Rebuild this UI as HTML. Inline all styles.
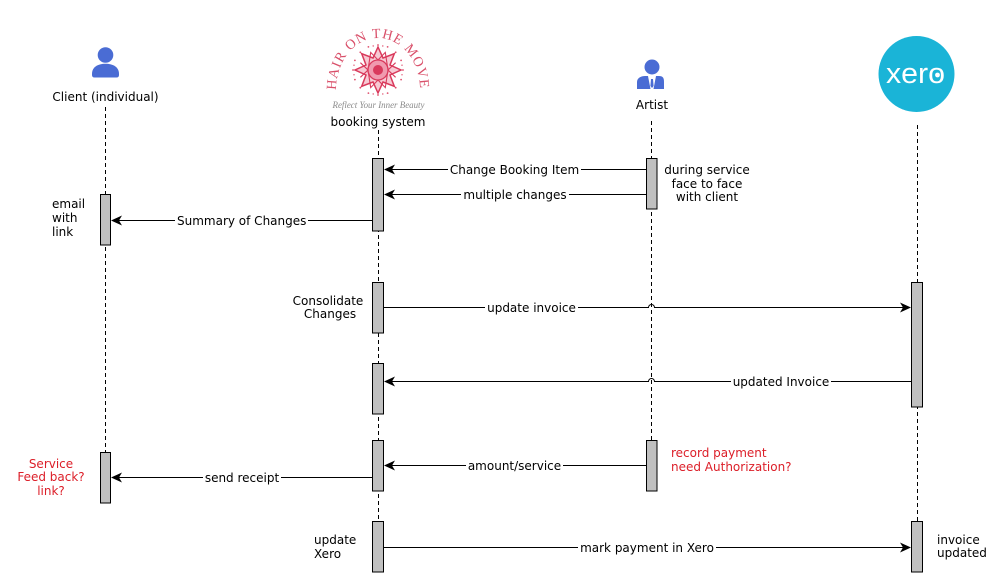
<!DOCTYPE html>
<html>
<head>
<meta charset="utf-8">
<style>
html,body{margin:0;padding:0;background:#fff;}
svg{display:block;}
text{font-family:"DejaVu Sans","Liberation Sans",sans-serif;font-size:12px;fill:#000;}
.red{fill:#dc1e28;}
</style>
</head>
<body>
<svg width="1005" height="587" viewBox="0 0 1005 587" xmlns="http://www.w3.org/2000/svg">
<rect width="1005" height="587" fill="#fff"/>

<!-- lifelines -->
<g stroke="#000" stroke-width="1" stroke-dasharray="4 3" fill="none">
  <line x1="105.5" y1="107" x2="105.5" y2="503"/>
  <line x1="378.5" y1="130" x2="378.5" y2="572"/>
  <line x1="651.5" y1="121" x2="651.5" y2="491"/>
  <line x1="917.5" y1="125" x2="917.5" y2="572"/>
</g>

<!-- Client icon -->
<g fill="#4a6cd4">
  <circle cx="105.5" cy="55" r="7.8"/>
  <path d="M92,74 C92,67 98,63.8 105.5,63.8 C113,63.8 119,67 119,74 L119,75 Q119,77.5 116.5,77.5 L94.5,77.5 Q92,77.5 92,75 Z"/>
</g>
<text x="105.5" y="101" text-anchor="middle">Client (individual)</text>

<!-- Booking system logo -->
<defs>
  <path id="arc" d="M336,90 A42,52 0 1 1 420,90"/>
</defs>
<text style="font-family:'Liberation Serif',serif;font-size:14px;fill:#d9506a;">
  <textPath href="#arc" textLength="146" lengthAdjust="spacing">HAIR ON THE MOVE</textPath>
</text>
<g transform="translate(378,70)">
  <g fill="#e0506e">
    <circle cx="0" cy="-25" r="0.9"/><circle cx="9.6" cy="-23.1" r="0.9"/><circle cx="17.7" cy="-17.7" r="0.9"/>
    <circle cx="23.1" cy="-9.6" r="0.9"/><circle cx="25" cy="0" r="0.9"/><circle cx="23.1" cy="9.6" r="0.9"/>
    <circle cx="17.7" cy="17.7" r="0.9"/><circle cx="9.6" cy="23.1" r="0.9"/><circle cx="0" cy="25" r="0.9"/>
    <circle cx="-9.6" cy="23.1" r="0.9"/><circle cx="-17.7" cy="17.7" r="0.9"/><circle cx="-23.1" cy="9.6" r="0.9"/>
    <circle cx="-25" cy="0" r="0.9"/><circle cx="-23.1" cy="-9.6" r="0.9"/><circle cx="-17.7" cy="-17.7" r="0.9"/>
    <circle cx="-9.6" cy="-23.1" r="0.9"/>
    <circle cx="4.8" cy="-24" r="0.7"/><circle cx="-4.8" cy="-24" r="0.7"/><circle cx="24" cy="4.8" r="0.7"/><circle cx="24" cy="-4.8" r="0.7"/>
    <circle cx="4.8" cy="24" r="0.7"/><circle cx="-4.8" cy="24" r="0.7"/><circle cx="-24" cy="4.8" r="0.7"/><circle cx="-24" cy="-4.8" r="0.7"/>
  </g>
  <polygon points="0,-23 5,-12 16.3,-16.3 12,-5 23,0 12,5 16.3,16.3 5,12 0,23 -5,12 -16.3,16.3 -12,5 -23,0 -12,-5 -16.3,-16.3 -5,-12" fill="#f7c9d3" stroke="#d93a5c" stroke-width="1.5"/>
  <polygon points="7.3,-17.6 0,-10 -7.3,-17.6 -10,0 -17.6,-7.3 -10,0 -17.6,7.3 -10,0 -7.3,17.6 0,10 7.3,17.6 10,0 17.6,7.3 10,0 17.6,-7.3 10,0" fill="none" stroke="#d93a5c" stroke-width="1.1"/>
  <circle cx="0" cy="0" r="10" fill="#f09aae" stroke="#d93a5c" stroke-width="1.3"/>
  <circle cx="0" cy="0" r="5" fill="#d93a5c"/>
</g>
<text x="378.5" y="108" text-anchor="middle" textLength="92" lengthAdjust="spacingAndGlyphs" style="font-family:'Liberation Serif',serif;font-style:italic;font-size:9px;fill:#8a8a8a">Reflect Your Inner Beauty</text>
<text x="378" y="126" text-anchor="middle">booking system</text>

<!-- Artist icon -->
<g>
  <circle cx="652" cy="67" r="7.5" fill="#4a6cd4"/>
  <path d="M637,89 L637,82 C637,78 641,76 645,76 L659,76 C663,76 664,78 664,82 L664,89 Z" fill="#4a6cd4"/>
  <polygon points="648,76 656,76 653.5,89 650.5,89" fill="#fff"/>
  <polygon points="651,79 653,79 653.6,86 652,88 650.4,86" fill="#4a6cd4"/>
</g>
<text x="652" y="109" text-anchor="middle">Artist</text>

<!-- Xero logo -->
<circle cx="916.5" cy="74" r="38" fill="#1ab4d7"/>
<text x="915.5" y="83" text-anchor="middle" textLength="59" lengthAdjust="spacingAndGlyphs" style="font-family:'Liberation Sans',sans-serif;font-size:29px;fill:#fff">xero</text>
<circle cx="937.5" cy="75" r="2.4" fill="#fff"/>

<!-- activation boxes -->
<g fill="#c0c0c0" stroke="#000" stroke-width="1">
  <rect x="100.5" y="194.5" width="10" height="50.5"/>
  <rect x="100.5" y="452.5" width="10" height="50.5"/>
  <rect x="372.5" y="158.5" width="11" height="72.5"/>
  <rect x="372.5" y="282.5" width="11" height="50.5"/>
  <rect x="372.5" y="363.5" width="11" height="50.5"/>
  <rect x="372.5" y="440.5" width="11" height="50.5"/>
  <rect x="372.5" y="521.5" width="11" height="50.5"/>
  <rect x="646.5" y="158.5" width="10.5" height="50.5"/>
  <rect x="646.5" y="440.5" width="10.5" height="50.5"/>
  <rect x="911.5" y="282.5" width="11" height="124.5"/>
  <rect x="911.5" y="521.5" width="11" height="50.5"/>
</g>

<!-- message lines -->
<g stroke="#000" stroke-width="1" fill="none">
  <line x1="646" y1="169.5" x2="392" y2="169.5"/>
  <line x1="646" y1="194.5" x2="392" y2="194.5"/>
  <line x1="372" y1="220.5" x2="119" y2="220.5"/>
  <path d="M384,307.5 L648.5,307.5 A3,3 0 0 1 654.5,307.5 L903,307.5"/>
  <path d="M911,381.5 L654.5,381.5 A3,3 0 0 0 648.5,381.5 L392,381.5"/>
  <line x1="646" y1="465.5" x2="392" y2="465.5"/>
  <line x1="372" y1="477.5" x2="119" y2="477.5"/>
  <line x1="384" y1="547.5" x2="903" y2="547.5"/>
</g>

<!-- arrowheads -->
<g fill="#000">
  <path d="M384,169.5 L395,164.5 L392,169.5 L395,174.5 Z"/>
  <path d="M384,194.5 L395,189.5 L392,194.5 L395,199.5 Z"/>
  <path d="M111,220.5 L122,215.5 L119,220.5 L122,225.5 Z"/>
  <path d="M911,307.5 L900,302.5 L903,307.5 L900,312.5 Z"/>
  <path d="M384,381.5 L395,376.5 L392,381.5 L395,386.5 Z"/>
  <path d="M384,465.5 L395,460.5 L392,465.5 L395,470.5 Z"/>
  <path d="M111,477.5 L122,472.5 L119,477.5 L122,482.5 Z"/>
  <path d="M911,547.5 L900,542.5 L903,547.5 L900,552.5 Z"/>
</g>

<!-- label backgrounds -->
<g fill="#fff">
  <rect x="448" y="162" width="133" height="15"/>
  <rect x="461" y="187" width="108" height="15"/>
  <rect x="175" y="213" width="133" height="15"/>
  <rect x="485" y="300" width="93" height="15"/>
  <rect x="731" y="374" width="100" height="15"/>
  <rect x="466" y="458" width="97" height="15"/>
  <rect x="203" y="470" width="78" height="15"/>
  <rect x="578" y="540" width="138" height="15"/>
</g>

<!-- message labels -->
<text x="514.5" y="174" text-anchor="middle">Change Booking Item</text>
<text x="515" y="199" text-anchor="middle">multiple changes</text>
<text x="241.7" y="225" text-anchor="middle">Summary of Changes</text>
<text x="531.5" y="312" text-anchor="middle">update invoice</text>
<text x="781" y="386" text-anchor="middle">updated Invoice</text>
<text x="514.5" y="470" text-anchor="middle">amount/service</text>
<text x="242" y="482" text-anchor="middle">send receipt</text>
<text x="647" y="552" text-anchor="middle">mark payment in Xero</text>

<!-- notes -->
<text x="52" y="208">email</text>
<text x="52" y="222">with</text>
<text x="52" y="236">link</text>

<text x="707" y="174" text-anchor="middle">during service</text>
<text x="707" y="188" text-anchor="middle">face to face</text>
<text x="707" y="201" text-anchor="middle">with client</text>

<text x="328" y="305" text-anchor="middle">Consolidate</text>
<text x="330" y="318" text-anchor="middle">Changes</text>

<text class="red" x="51" y="468" text-anchor="middle">Service</text>
<text class="red" x="51" y="481" text-anchor="middle">Feed back?</text>
<text class="red" x="51" y="495" text-anchor="middle">link?</text>

<text class="red" x="671" y="457">record payment</text>
<text class="red" x="671" y="471">need Authorization?</text>

<text x="314" y="544">update</text>
<text x="314" y="558">Xero</text>

<text x="937" y="544">invoice</text>
<text x="937" y="557">updated</text>
</svg>
</body>
</html>
